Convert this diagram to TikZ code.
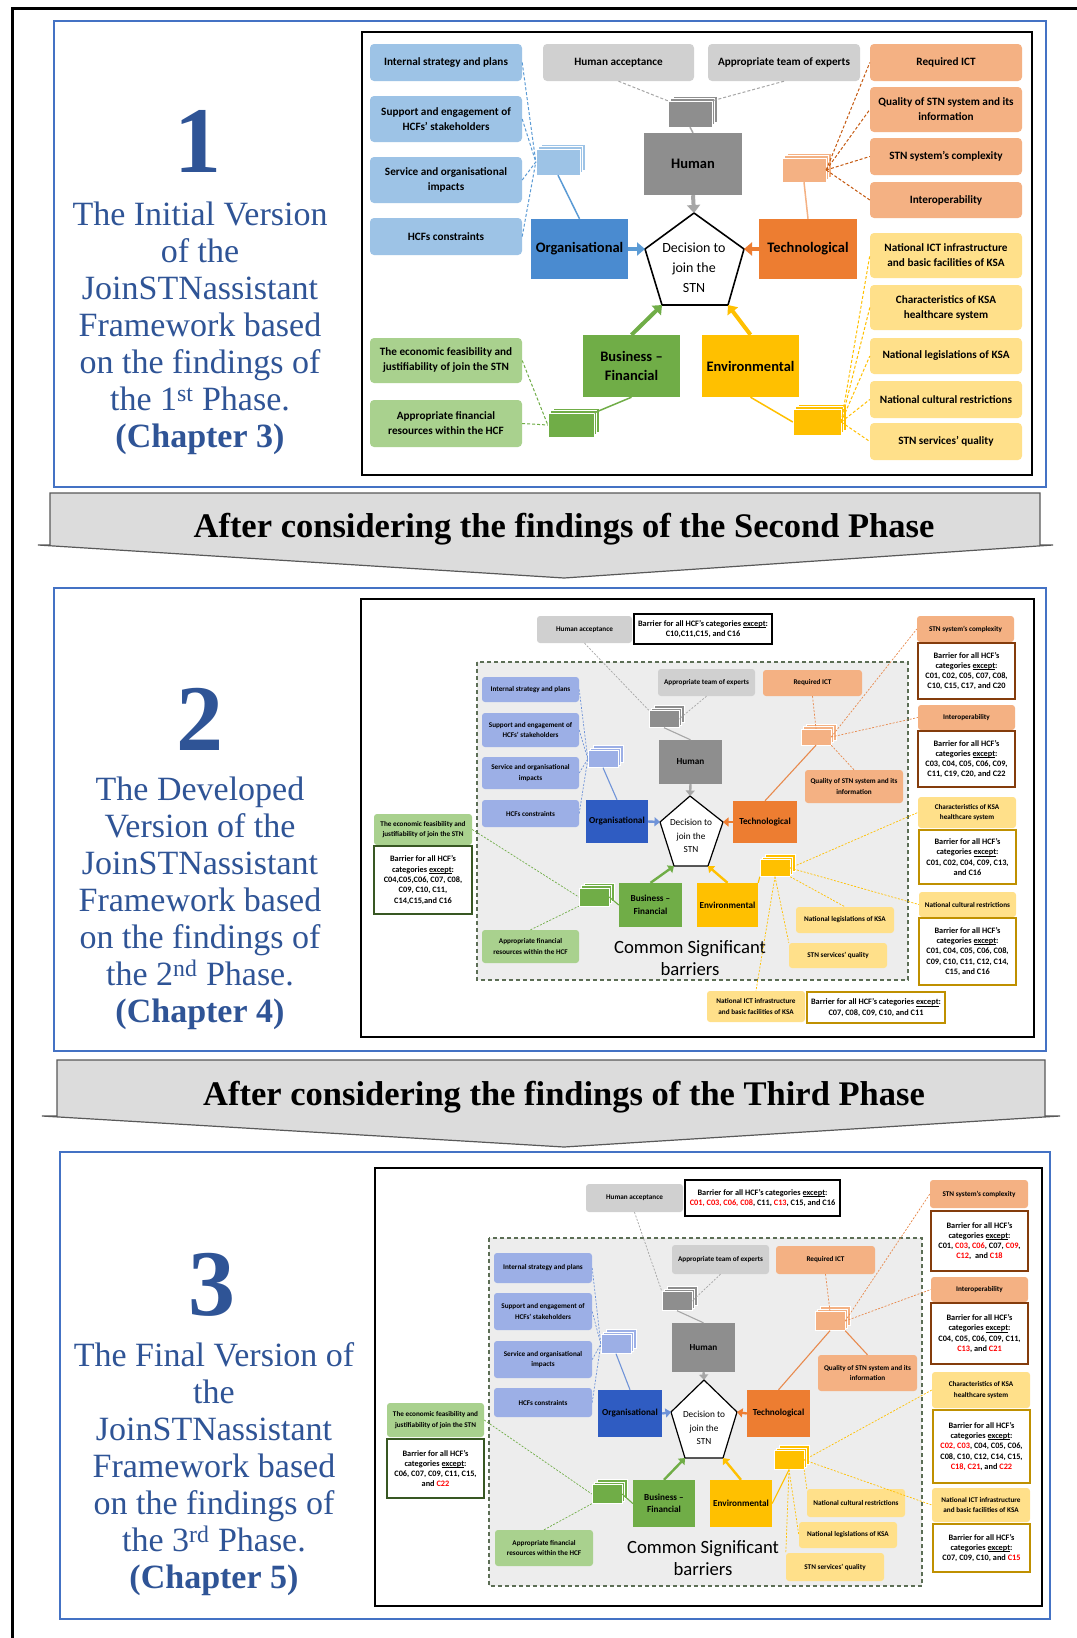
\documentclass[tikz,border=0pt]{standalone}
\usepackage{fontspec}
\setmainfont{Liberation Serif}
\newfontfamily\carl{Carlito}
\usetikzlibrary{shadows,arrows.meta}
\definecolor{lbA}{HTML}{9DC3E6}
\definecolor{lbB}{HTML}{9CAFE6}
\definecolor{obA}{HTML}{4A8BD0}
\definecolor{obB}{HTML}{2F5CC2}
\definecolor{lgy}{HTML}{D0D0D0}
\definecolor{dgy}{HTML}{8E8E8E}
\definecolor{lor}{HTML}{F4B183}
\definecolor{dor}{HTML}{ED7D31}
\definecolor{lye}{HTML}{FFE08A}
\definecolor{dye}{HTML}{FFC000}
\definecolor{lgn}{HTML}{A9D18E}
\definecolor{dgn}{HTML}{70AD47}
\definecolor{tbl}{HTML}{2F5496}
\definecolor{pfr}{HTML}{4472C4}
\definecolor{ban}{HTML}{DCDCDC}
\definecolor{band}{HTML}{595959}
\definecolor{reg}{HTML}{EDEDED}
\definecolor{regd}{HTML}{5C6E55}
\definecolor{brn}{HTML}{843C0C}
\definecolor{gld}{HTML}{BF9000}
\definecolor{dkg}{HTML}{385723}
\definecolor{cbl}{HTML}{5B9BD5}
\definecolor{cgy}{HTML}{A6A6A6}
\definecolor{cor}{HTML}{C55A11}
\definecolor{cye}{HTML}{FFC000}
\definecolor{cgn}{HTML}{70AD47}
\definecolor{cblB}{HTML}{6F93D8}
\definecolor{corB}{HTML}{E88A4E}
\newcommand{\rd}[1]{\textcolor{red}{#1}}
\newcommand{\uex}{\setbox0\hbox{except}\rlap{\rule[-1.2pt]{\wd0}{0.45pt}}except}
\newcommand{\bx}[7]{\node[#2, minimum width={#5-#3}, minimum height={#6-#4}] (#1) at ({(#3+#5)/2},{(#4+#6)/2}) {#7};}
\newcommand{\stk}[6]{\node[stk=#2, minimum width=#5, minimum height=#6] (#1) at (#3,#4) {};}
\begin{document}
\begin{tikzpicture}[x=1pt,y=-1pt,
 pframe/.style={draw=pfr,line width=2.5pt},
 iframe/.style={draw=black,line width=2.6pt},
 sbA/.style={rounded corners=4pt,align=center,inner sep=0.5pt,font=\carl\bfseries\fontsize{11.2}{15}\selectfont},
 mbA/.style={align=center,inner sep=0.5pt,font=\carl\bfseries\fontsize{14.5}{19}\selectfont},
 sbB/.style={rounded corners=3pt,align=center,inner sep=0.5pt,font=\carl\bfseries\fontsize{7.2}{10.5}\selectfont},
 mbB/.style={align=center,inner sep=0.5pt,font=\carl\bfseries\fontsize{9.2}{12.5}\selectfont},
 bar/.style={draw=#1,line width=1.2pt,fill=white,align=center,inner sep=0.5pt,font=\carl\bfseries\fontsize{8.3}{10.3}\selectfont},
 stk/.style={fill=#1,draw=white,line width=0.4pt,double copy shadow={shadow xshift=2.5pt,shadow yshift=2.5pt,fill=#1,draw=white,line width=0.4pt}},
 dl/.style={line width=1pt,dash pattern=on 3pt off 2pt},
 sl/.style={line width=1.5pt},
 dlB/.style={line width=0.7pt,dash pattern=on 2pt off 1.5pt},
 slB/.style={line width=1.1pt},
 arA/.style={line width=4pt,-{Triangle[length=8pt,width=13pt]}},
 arB/.style={line width=2.4pt,-{Triangle[length=5.5pt,width=9pt]}},
 pent/.style={draw=black,line width=1.6pt,fill=white},
 ptA/.style={align=center,inner sep=0pt,font=\carl\fontsize{14}{20}\selectfont},
 ptB/.style={align=center,inner sep=0pt,font=\carl\fontsize{9.3}{13.5}\selectfont},
 lt/.style={text=tbl,align=center,inner sep=0pt,font=\fontsize{34}{37}\selectfont},
 bignum/.style={text=tbl,inner sep=0pt,font=\bfseries\fontsize{94}{94}\selectfont},
 banner/.style={fill=ban,draw=band,line width=1.2pt},
 bt/.style={inner sep=0pt,font=\bfseries\fontsize{34.5}{36}\selectfont},
 region/.style={fill=reg,draw=regd,line width=1.2pt,dash pattern=on 4pt off 3pt},
 csb/.style={align=center,inner sep=0pt,font=\carl\fontsize{18.7}{22}\selectfont}
]
\useasboundingbox (0,0) rectangle (1076,1638);
\fill[white] (0,0) rectangle (1076,1638);
\draw[line width=3pt] (12,1640) -- (12,8) -- (1078,8);

% ================= PANEL 1 =================
\draw[pframe] (54,21) rectangle (1046,487);
\draw[iframe] (362,32) rectangle (1032,475);
\node[bignum] (n1) at (198,141) {1};
\node[lt] (t1) at (200,328) {The Initial Version\\of the\\JoinSTNassistant\\Framework based\\on the findings of\\the 1\textsuperscript{st} Phase.\\\textbf{(Chapter 3)}};

\bx{p1is}{sbA,fill=lbA}{370}{44}{522}{81}{Internal strategy and plans}
\bx{p1se}{sbA,fill=lbA}{370}{96}{522}{142}{Support and engagement of\\HCFs’ stakeholders}
\bx{p1so}{sbA,fill=lbA}{370}{157}{522}{203}{Service and organisational\\impacts}
\bx{p1hc}{sbA,fill=lbA}{370}{218}{522}{255}{HCFs constraints}
\bx{p1ha}{sbA,fill=lgy}{543}{44}{694}{81}{Human acceptance}
\bx{p1at}{sbA,fill=lgy}{708}{44}{860}{81}{Appropriate team of experts}
\bx{p1ri}{sbA,fill=lor}{870}{44}{1022}{81}{Required ICT}
\bx{p1qs}{sbA,fill=lor}{870}{87}{1022}{132}{Quality of STN system and its\\information}
\bx{p1cx}{sbA,fill=lor}{870}{138}{1022}{175}{STN system’s complexity}
\bx{p1io}{sbA,fill=lor}{870}{182}{1022}{218}{Interoperability}
\bx{p1ni}{sbA,fill=lye}{870}{233}{1022}{278}{National ICT infrastructure\\and basic facilities of KSA}
\bx{p1ch}{sbA,fill=lye}{870}{285}{1022}{330}{Characteristics of KSA\\healthcare system}
\bx{p1nl}{sbA,fill=lye}{870}{338}{1022}{374}{National legislations of KSA}
\bx{p1nc}{sbA,fill=lye}{870}{381}{1022}{418}{National cultural restrictions}
\bx{p1sq}{sbA,fill=lye}{870}{423}{1022}{460}{STN services’ quality}
\bx{p1ef}{sbA,fill=lgn}{370}{338}{522}{383}{The economic feasibility and\\justifiability of join the STN}
\bx{p1af}{sbA,fill=lgn}{370}{400}{522}{447}{Appropriate financial\\resources within the HCF}
\bx{p1org}{mbA,fill=obA}{531}{219}{628}{279}{Organisational}
\bx{p1hum}{mbA,fill=dgy}{644}{133}{742}{195}{Human}
\bx{p1tec}{mbA,fill=dor}{759}{219}{857}{279}{Technological}
\bx{p1env}{mbA,fill=dye}{702}{335}{799}{397}{Environmental}
\bx{p1bus}{mbA,fill=dgn}{583}{335}{680}{397}{Business –\\Financial}
\coordinate (p1A) at (694,213);
\coordinate (p1R) at (744,249);
\coordinate (p1BR) at (728,305);
\coordinate (p1BL) at (662,305);
\coordinate (p1L) at (645,249);
\draw[pent] (p1A) -- (p1R) -- (p1BR) -- (p1BL) -- (p1L) -- cycle;
\node[ptA] (p1dec) at (694,268) {Decision to\\join the\\STN};
\stk{s1b}{lbA}{558}{162}{44}{26}
\stk{s1g}{dgy}{690}{114}{44}{26}
\stk{s1o}{lor}{804}{170}{44}{24}
\stk{s1y}{dye}{817}{422}{48}{26}
\stk{s1gr}{dgn}{571}{425}{46}{24}
\foreach \n in {p1is,p1se,p1so,p1hc} \draw[cbl,dl] (\n.east) -- (s1b.west);
\draw[cbl,sl] (s1b.south) -- (p1org.north);
\draw[cgy,dl] (p1ha.south) -- (s1g.north west);
\draw[cgy,dl] (p1at.south) -- (s1g.north east);
\draw[cgy,sl] (s1g.south) -- (p1hum.north);
\foreach \n in {p1ri,p1qs,p1cx,p1io} \draw[cor,dl] (s1o.east) -- (\n.west);
\draw[lor,sl] (s1o.south) -- (p1tec.north);
\foreach \n in {p1ni,p1ch,p1nl,p1nc,p1sq} \draw[cye,dl] (s1y.east) -- (\n.west);
\draw[cye,sl] (p1env.south) -- (s1y.west);
\draw[cgn,dl] (p1ef.east) -- (s1gr.west);
\draw[cgn,dl] (p1af.east) -- (s1gr.west);
\draw[cgn,sl] (s1gr.north east) -- (p1bus.south);
\draw[arA,cbl] (p1org.east) -- (p1L);
\draw[arA,cgy] (p1hum.south) -- (p1A);
\draw[arA,dor] (p1tec.west) -- (p1R);
\draw[arA,dye] (p1env.north) -- (p1BR);
\draw[arA,dgn] (p1bus.north) -- (p1BL);

% banner 1
\draw[banner] (50,493) -- (1040,493) -- (1040,545) -- (1053,545) -- (564,578) -- (38,545) -- (50,545) -- cycle;
\node[bt] (bt1) at (564,529) {After considering the findings of the Second Phase};

% ================= PANEL 2 =================
\draw[pframe] (54,588) rectangle (1046,1051);
\draw[iframe] (361,599) rectangle (1034,1037);
\node[bignum] (n2) at (200,719) {2};
\node[lt] (t2) at (200,903) {The Developed\\Version of the\\JoinSTNassistant\\Framework based\\on the findings of\\the 2\textsuperscript{nd} Phase.\\\textbf{(Chapter 4)}};
\draw[region] (477,662) rectangle (908,980);
\bx{p2ha}{sbB,fill=lgy}{537}{616}{632}{643}{Human acceptance}
\bx{p2hab}{bar=black}{634}{614}{772}{644}{Barrier for all HCF’s categories \uex:\\C10,C11,C15, and C16}
\bx{p2is}{sbB,fill=lbB}{482}{677}{579}{702}{Internal strategy and plans}
\bx{p2se}{sbB,fill=lbB}{482}{713}{579}{747}{Support and engagement of\\HCFs’ stakeholders}
\bx{p2so}{sbB,fill=lbB}{482}{757}{579}{789}{Service and organisational\\impacts}
\bx{p2hc}{sbB,fill=lbB}{482}{800}{579}{827}{HCFs constraints}
\bx{p2at}{sbB,fill=lgy}{658}{669}{755}{696}{Appropriate team of experts}
\bx{p2ri}{sbB,fill=lor}{763}{670}{862}{696}{Required ICT}
\bx{p2qs}{sbB,fill=lor}{805}{770}{903}{803}{Quality of STN system and its\\information}
\bx{p2cx}{sbB,fill=lor}{917}{616}{1014}{642}{STN system’s complexity}
\bx{p2cxb}{bar=brn}{918}{643}{1015}{699}{Barrier for all HCF’s\\categories \uex:\\C01, C02, C05, C07, C08,\\C10, C15, C17, and C20}
\bx{p2io}{sbB,fill=lor}{918}{705}{1015}{730}{Interoperability}
\bx{p2iob}{bar=brn}{918}{731}{1015}{787}{Barrier for all HCF’s\\categories \uex:\\C03, C04, C05, C06, C09,\\C11, C19, C20, and C22}
\bx{p2ch}{sbB,fill=lye}{918}{797}{1016}{828}{Characteristics of KSA\\healthcare system}
\bx{p2chb}{bar=gld}{919}{830}{1016}{884}{Barrier for all HCF’s\\categories \uex:\\C01, C02, C04, C09, C13,\\and C16}
\bx{p2nc}{sbB,fill=lye}{919}{892}{1016}{917}{National cultural restrictions}
\bx{p2ncb}{bar=gld}{919}{918}{1016}{985}{Barrier for all HCF’s\\categories \uex:\\C01, C04, C05, C06, C08,\\C09, C10, C11, C12, C14,\\C15, and C16}
\bx{p2nl}{sbB,fill=lye}{796}{907}{894}{933}{National legislations of KSA}
\bx{p2sq}{sbB,fill=lye}{789}{943}{887}{968}{STN services’ quality}
\bx{p2ni}{sbB,fill=lye}{707}{991}{805}{1022}{National ICT infrastructure\\and basic facilities of KSA}
\bx{p2nib}{bar=gld}{807}{992}{945}{1023}{Barrier for all HCF’s categories \uex:\\C07, C08, C09, C10, and C11}
\bx{p2ef}{sbB,fill=lgn}{374}{814}{472}{845}{The economic feasibility and\\justifiability of join the STN}
\bx{p2efb}{bar=dkg}{374}{846}{472}{914}{Barrier for all HCF’s\\categories \uex:\\C04,C05,C06, C07, C08,\\C09, C10, C11,\\C14,C15,and C16}
\bx{p2af}{sbB,fill=lgn}{482}{930}{579}{963}{Appropriate financial\\resources within the HCF}
\bx{p2org}{mbB,fill=obB}{586}{800}{648}{843}{Organisational}
\bx{p2hum}{mbB,fill=dgy}{659}{740}{722}{784}{Human}
\bx{p2tec}{mbB,fill=dor}{733}{801}{797}{843}{Technological}
\bx{p2env}{mbB,fill=dye}{697}{883}{758}{927}{Environmental}
\bx{p2bus}{mbB,fill=dgn}{619}{883}{682}{927}{Business –\\Financial}
\node[csb] (p2csb) at (690,958) {Common Significant\\barriers};
\coordinate (p2A) at (690,796);
\coordinate (p2R) at (723,822);
\coordinate (p2BR) at (708,866);
\coordinate (p2BL) at (674,866);
\coordinate (p2L) at (660,822);
\draw[pent,line width=1.2pt] (p2A) -- (p2R) -- (p2BR) -- (p2BL) -- (p2L) -- cycle;
\node[ptB] (p2dec) at (691,836) {Decision to\\join the\\STN};
\stk{s2b}{lbB}{603}{759}{30}{17}
\stk{s2g}{dgy}{664}{719}{30}{17}
\stk{s2o}{lor}{816}{737}{30}{16}
\stk{s2y}{dye}{775}{868}{30}{17}
\stk{s2gr}{dgn}{594}{897}{30}{18}
\draw[cgy,dlB] (p2ha.south) -- (s2g.north west);
\draw[cgy,dlB] (p2at.south) -- (s2g.east);
\draw[cgy,slB] (s2g.south) -- (p2hum.north);
\foreach \n in {p2is,p2se,p2so,p2hc} \draw[cblB,dlB] (\n.east) -- (s2b.west);
\draw[cblB,slB] (s2b.south) -- (p2org.north);
\draw[corB,dlB] (p2ri.south) -- (s2o.north);
\draw[corB,dlB] (s2o.south east) -- (p2qs.north);
\draw[corB,dlB] (s2o.east) -- (p2cx.west);
\draw[corB,dlB] (s2o.east) -- (p2io.west);
\draw[corB,slB] (p2tec.north) -- (s2o.south);
\draw[cye,dlB] (s2y.east) -- (p2ch.west);
\draw[cye,dlB] (s2y.east) -- (p2nc.west);
\draw[cye,dlB] (s2y.south east) -- (p2nl.north);
\draw[cye,dlB] (s2y.south) -- (p2sq.north west);
\draw[cye,dlB] (s2y.south) -- (p2ni.north);
\draw[cye,slB] (p2env.north east) -- (s2y.south west);
\draw[cgn,dlB] (p2ef.east) -- (s2gr.west);
\draw[cgn,dlB] (p2af.north) -- (s2gr.south west);
\draw[cgn,slB] (s2gr.east) -- (p2bus.west);
\draw[arB,cblB] (p2org.east) -- (p2L);
\draw[arB,cgy] (p2hum.south) -- (p2A);
\draw[arB,dor] (p2tec.west) -- (p2R);
\draw[arB,dye] (p2env.north) -- (p2BR);
\draw[arB,dgn] (p2bus.north) -- (p2BL);

% banner 2
\draw[banner] (57,1060) -- (1045,1060) -- (1045,1116) -- (1060,1116) -- (564,1147) -- (42,1116) -- (57,1116) -- cycle;
\node[bt] (bt2) at (564,1097) {After considering the findings of the Third Phase};

% ================= PANEL 3 =================
\draw[pframe] (60,1152) rectangle (1050,1619);
\draw[iframe] (375,1168) rectangle (1042,1606);
\node[bignum] (n3) at (212,1285) {3};
\node[lt] (t3) at (214,1469) {The Final Version of\\the\\JoinSTNassistant\\Framework based\\on the findings of\\the 3\textsuperscript{rd} Phase.\\\textbf{(Chapter 5)}};
\draw[region] (489,1238) rectangle (922,1586);
\bx{p3ha}{sbB,fill=lgy}{586}{1184}{683}{1212}{Human acceptance}
\bx{p3hab}{bar=black}{685}{1180}{840}{1216}{Barrier for all HCF’s categories \uex:\\\rd{C01, C03, C06, C08}, C11, \rd{C13}, C15, and C16}
\bx{p3is}{sbB,fill=lbB}{494}{1253}{592}{1283}{Internal strategy and plans}
\bx{p3se}{sbB,fill=lbB}{494}{1293}{592}{1330}{Support and engagement of\\HCFs’ stakeholders}
\bx{p3so}{sbB,fill=lbB}{494}{1341}{592}{1378}{Service and organisational\\impacts}
\bx{p3hc}{sbB,fill=lbB}{494}{1388}{592}{1417}{HCFs constraints}
\bx{p3at}{sbB,fill=lgy}{672}{1245}{769}{1274}{Appropriate team of experts}
\bx{p3ri}{sbB,fill=lor}{776}{1246}{875}{1274}{Required ICT}
\bx{p3qs}{sbB,fill=lor}{818}{1355}{917}{1391}{Quality of STN system and its\\information}
\bx{p3cx}{sbB,fill=lor}{930}{1180}{1028}{1208}{STN system’s complexity}
\bx{p3cxb}{bar=brn}{931}{1211}{1028}{1271}{Barrier for all HCF’s\\categories \uex:\\C01, \rd{C03}, \rd{C06}, C07, \rd{C09},\\\rd{C12},~ and \rd{C18}}
\bx{p3io}{sbB,fill=lor}{931}{1277}{1028}{1302}{Interoperability}
\bx{p3iob}{bar=brn}{931}{1303}{1028}{1364}{Barrier for all HCF’s\\categories \uex:\\C04, C05, C06, C09, C11,\\\rd{C13}, and \rd{C21}}
\bx{p3ch}{sbB,fill=lye}{932}{1372}{1030}{1408}{Characteristics of KSA\\healthcare system}
\bx{p3chb}{bar=gld}{933}{1410}{1030}{1483}{Barrier for all HCF’s\\categories \uex:\\\rd{C02, C03}, C04, C05, C06,\\C08, C10, C12, C14, C15,\\\rd{C18, C21}, and \rd{C22}}
\bx{p3ni}{sbB,fill=lye}{932}{1488}{1030}{1522}{National ICT infrastructure\\and basic facilities of KSA}
\bx{p3nib}{bar=gld}{933}{1524}{1030}{1572}{Barrier for all HCF’s\\categories \uex:\\C07, C09, C10, and \rd{C15}}
\bx{p3nc}{sbB,fill=lye}{807}{1489}{905}{1517}{National cultural restrictions}
\bx{p3nl}{sbB,fill=lye}{799}{1522}{897}{1548}{National legislations of KSA}
\bx{p3sq}{sbB,fill=lye}{786}{1553}{884}{1581}{STN services’ quality}
\bx{p3ef}{sbB,fill=lgn}{387}{1403}{484}{1437}{The economic feasibility and\\justifiability of join the STN}
\bx{p3efb}{bar=dkg}{387}{1439}{484}{1498}{Barrier for all HCF’s\\categories \uex:\\C06, C07, C09, C11, C15,\\and \rd{C22}}
\bx{p3af}{sbB,fill=lgn}{495}{1530}{593}{1566}{Appropriate financial\\resources within the HCF}
\bx{p3org}{mbB,fill=obB}{598}{1390}{662}{1437}{Organisational}
\bx{p3hum}{mbB,fill=dgy}{672}{1323}{735}{1372}{Human}
\bx{p3tec}{mbB,fill=dor}{747}{1390}{810}{1437}{Technological}
\bx{p3env}{mbB,fill=dye}{710}{1480}{772}{1527}{Environmental}
\bx{p3bus}{mbB,fill=dgn}{633}{1480}{695}{1527}{Business –\\Financial}
\node[csb] (p3csb) at (703,1558) {Common Significant\\barriers};
\coordinate (p3A) at (704,1380);
\coordinate (p3R) at (737,1412);
\coordinate (p3BR) at (723,1458);
\coordinate (p3BL) at (685,1458);
\coordinate (p3L) at (671,1412);
\draw[pent,line width=1.2pt] (p3A) -- (p3R) -- (p3BR) -- (p3BL) -- (p3L) -- cycle;
\node[ptB] (p3dec) at (704,1428) {Decision to\\join the\\STN};
\stk{s3b}{lbB}{616}{1344}{30}{19}
\stk{s3g}{dgy}{677}{1301}{30}{19}
\stk{s3o}{lor}{830}{1321}{30}{19}
\stk{s3y}{dye}{789}{1460}{30}{19}
\stk{s3gr}{dgn}{607}{1494}{30}{19}
\draw[cgy,dlB] (p3ha.south) -- (s3g.north west);
\draw[cgy,dlB] (p3at.south) -- (s3g.east);
\draw[cgy,slB] (s3g.south) -- (p3hum.north);
\foreach \n in {p3is,p3se,p3so,p3hc} \draw[cblB,dlB] (\n.east) -- (s3b.west);
\draw[cblB,slB] (s3b.south) -- (p3org.north);
\draw[corB,dlB] (p3ri.south) -- (s3o.north);
\draw[corB,slB] (s3o.south east) -- (p3qs.north);
\draw[corB,dlB] (s3o.east) -- (p3cx.west);
\draw[corB,dlB] (s3o.east) -- (p3io.west);
\draw[corB,slB] (p3tec.north) -- (s3o.south);
\draw[cye,dlB] (s3y.east) -- (p3ch.west);
\draw[cye,dlB] (s3y.east) -- (p3ni.west);
\draw[cye,dlB] (s3y.south east) -- (p3nc.north west);
\draw[cye,dlB] (s3y.south) -- (p3nl.west);
\draw[cye,dlB] (s3y.south) -- (p3sq.north west);
\draw[cye,slB] (p3env.east) -- (s3y.south);
\draw[cgn,dlB] (p3ef.east) -- (s3gr.west);
\draw[cgn,dlB] (p3af.north) -- (s3gr.south west);
\draw[cgn,slB] (s3gr.east) -- (p3bus.west);
\draw[arB,cblB] (p3org.east) -- (p3L);
\draw[arB,cgy] (p3hum.south) -- (p3A);
\draw[arB,dor] (p3tec.west) -- (p3R);
\draw[arB,dye] (p3env.north) -- (p3BR);
\draw[arB,dgn] (p3bus.north) -- (p3BL);
\end{tikzpicture}
\end{document}
